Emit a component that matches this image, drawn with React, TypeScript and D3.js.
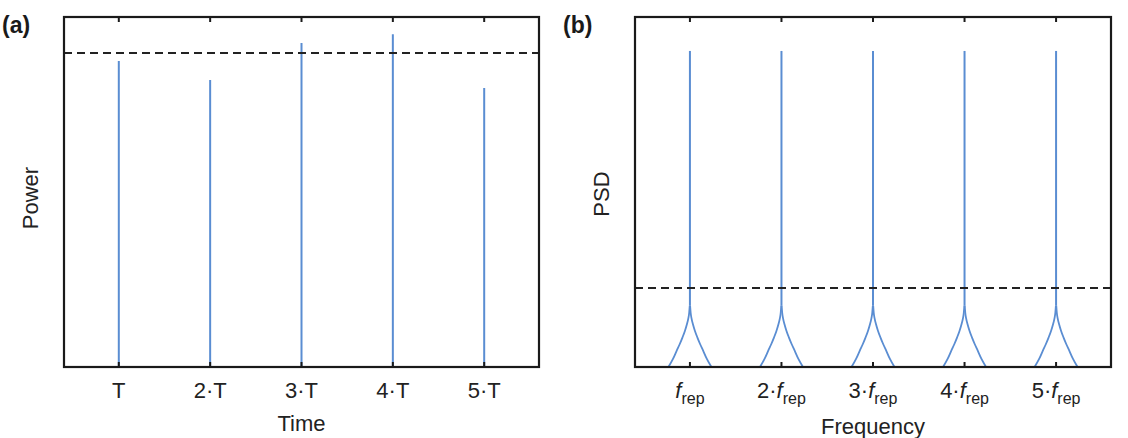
import React from "react";
import * as d3 from "d3";

// Panel (a): pulse train in time
const pulseIndex = [1, 2, 3, 4, 5];
const pulsePower = [0.874, 0.82, 0.926, 0.951, 0.797];
const powerThreshold = 0.897;
const timeTickLabels = ["T", "2·T", "3·T", "4·T", "5·T"];

// Panel (b): comb lines in frequency
const combIndex = [1, 2, 3, 4, 5];
const combPeak = [0.903, 0.903, 0.903, 0.903, 0.903];
const psdThreshold = 0.226;
const freqTickPrefix = ["", "2·", "3·", "4·", "5·"];
// line-shape skirt: offset from line centre (in f_rep units) vs PSD level
const skirtOffset = [0.002, 0.008, 0.018, 0.033, 0.055, 0.082, 0.112, 0.142, 0.185, 0.235];
const skirtLevel = [0.175, 0.155, 0.138, 0.122, 0.103, 0.084, 0.065, 0.048, 0.023, 0];

const W = 1128;
const H = 438;
const top = 17;
const bottom = 367;
const panelA = { left: 64, right: 539 };
const panelB = { left: 635, right: 1111 };
const BLUE = "#5a8dd2";
const INK = "#1a1a1a";
const FONT = "'Liberation Sans', Arial, Helvetica, sans-serif";

function Frame({ x, ticks }: { x: d3.ScaleLinear<number, number>; ticks: number[] }) {
  const [x0, x1] = x.range();
  return (
    <g>
      {ticks.map((t) => (
        <g key={t}>
          <line x1={x(t)} x2={x(t)} y1={bottom} y2={bottom - 5} stroke={INK} strokeWidth={2} />
          <line x1={x(t)} x2={x(t)} y1={top} y2={top + 5} stroke={INK} strokeWidth={2} />
        </g>
      ))}
      <rect x={x0} y={top} width={x1 - x0} height={bottom - top} fill="none" stroke={INK} strokeWidth={2.2} />
    </g>
  );
}

export default function App() {
  const y = d3.scaleLinear().domain([0, 1]).range([bottom, top]);
  const xa = d3.scaleLinear().domain([0.4, 5.6]).range([panelA.left, panelA.right]);
  const xb = d3.scaleLinear().domain([0.4, 5.6]).range([panelB.left, panelB.right]);

  const curve = d3
    .line<[number, number]>()
    .x((d) => xb(d[0]))
    .y((d) => y(d[1]))
    .curve(d3.curveMonotoneX);

  // one comb line: narrow spike plus the two flaring skirts at its foot
  const skirtPath = (k: number, side: number) =>
    curve(skirtOffset.map((o, i) => [k + side * o, skirtLevel[i]] as [number, number])) || "";

  return (
    <svg width={W} height={H} style={{ position: "absolute", left: 0, top: 0, background: "#fff" }} fontFamily={FONT}>
      <rect width={W} height={H} fill="#fff" />

      {/* (a) Time domain */}
      <text x={2} y={33} fontSize={23} fontWeight="bold" fill={INK}>(a)</text>
      {pulseIndex.map((k, i) => (
        <line key={k} x1={xa(k)} x2={xa(k)} y1={y(0)} y2={y(pulsePower[i])} stroke={BLUE} strokeWidth={2} />
      ))}
      <line x1={panelA.left} x2={panelA.right} y1={y(powerThreshold)} y2={y(powerThreshold)} stroke="#222" strokeWidth={2} strokeDasharray="8 5" />
      <Frame x={xa} ticks={pulseIndex} />
      {pulseIndex.map((k, i) => (
        <text key={k} x={xa(k)} y={398} fontSize={22} textAnchor="middle" fill="#222">{timeTickLabels[i]}</text>
      ))}
      <text x={(panelA.left + panelA.right) / 2} y={431} fontSize={22} textAnchor="middle" fill="#222">Time</text>
      <text transform={`translate(38,${(top + bottom) / 2 + 6}) rotate(-90)`} fontSize={22} textAnchor="middle" fill="#222">Power</text>

      {/* (b) Frequency domain */}
      <text x={563} y={33} fontSize={23} fontWeight="bold" fill={INK}>(b)</text>
      {combIndex.map((k, i) => (
        <g key={k} fill="none" stroke={BLUE} strokeWidth={1.8}>
          <line x1={xb(k)} x2={xb(k)} y1={y(skirtLevel[0])} y2={y(combPeak[i])} strokeWidth={2} />
          <path d={skirtPath(k, -1)} />
          <path d={skirtPath(k, 1)} />
        </g>
      ))}
      <line x1={panelB.left} x2={panelB.right} y1={y(psdThreshold)} y2={y(psdThreshold)} stroke="#222" strokeWidth={2} strokeDasharray="8 5" />
      <Frame x={xb} ticks={combIndex} />
      {combIndex.map((k, i) => (
        <text key={k} x={xb(k)} y={398} fontSize={22} textAnchor="middle" fill="#222">
          {freqTickPrefix[i]}
          <tspan fontStyle="italic">f</tspan>
          <tspan fontSize={16} dy={6}>rep</tspan>
        </text>
      ))}
      <text x={(panelB.left + panelB.right) / 2} y={434} fontSize={22} textAnchor="middle" fill="#222">Frequency</text>
      <text transform={`translate(609,${(top + bottom) / 2 + 2}) rotate(-90)`} fontSize={22} textAnchor="middle" fill="#222">PSD</text>
    </svg>
  );
}
